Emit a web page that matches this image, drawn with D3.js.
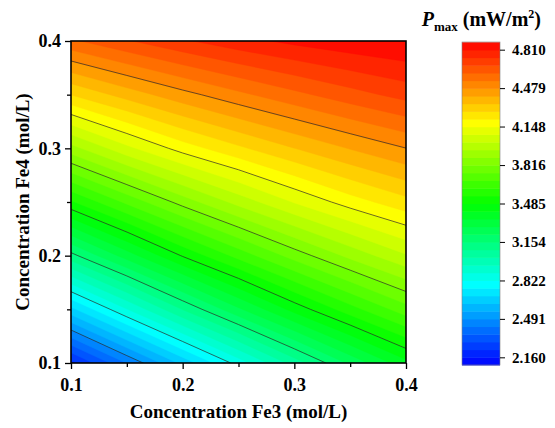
<!DOCTYPE html>
<html><head><meta charset="utf-8">
<script src="https://cdn.jsdelivr.net/npm/d3@7"></script>
<style>
body{margin:0;background:#fff;}
svg text{font-family:"Liberation Serif","Times New Roman",serif;font-weight:bold;fill:#000;}
</style></head><body>
<svg id="chart" width="555" height="428"></svg>
<script>
// ---- data ----
const xValues = [0.10, 0.15, 0.20, 0.25, 0.30, 0.35, 0.40];   // Concentration Fe3 (mol/L)
const yValues = [0.10, 0.15, 0.20, 0.25, 0.30, 0.35, 0.40];   // Concentration Fe4 (mol/L)
// Pmax (mW/m2); one row per yValue (ascending), one column per xValue
const pmaxRows = [
  [2.204, 2.428, 2.643, 2.851, 3.050, 3.234, 3.397],
  [2.671, 2.886, 3.090, 3.274, 3.443, 3.589, 3.721],
  [3.131, 3.317, 3.491, 3.640, 3.778, 3.900, 4.007],
  [3.541, 3.698, 3.844, 3.972, 4.085, 4.180, 4.256],
  [3.922, 4.062, 4.177, 4.265, 4.344, 4.415, 4.478],
  [4.280, 4.373, 4.455, 4.527, 4.591, 4.649, 4.700],
  [4.597, 4.669, 4.732, 4.785, 4.825, 4.855, 4.875]
];
const colorbarTicks = [2.160, 2.491, 2.822, 3.154, 3.485, 3.816, 4.148, 4.479, 4.810];
const contourLineLevels = [2.491, 2.822, 3.154, 3.485, 3.816, 4.148, 4.479];
const xTicks = [0.1, 0.2, 0.3, 0.4], xMinorTicks = [0.15, 0.25, 0.35];
const yTicks = [0.1, 0.2, 0.3, 0.4], yMinorTicks = [0.15, 0.25, 0.35];
const bandsPerLevel = 5;
const paletteStops = ["#0000ff", "#00ffff", "#00ff00", "#ffff00", "#ff0000"];

// ---- layout ----
const svg = d3.select("#chart");
const plot = {left: 71, right: 406, top: 41, bottom: 363};
const x = d3.scaleLinear().domain([0.1, 0.4]).range([plot.left, plot.right]);
const y = d3.scaleLinear().domain([0.1, 0.4]).range([plot.bottom, plot.top]);

const sub = (colorbarTicks[1] - colorbarTicks[0]) / bandsPerLevel;
const cbMin = colorbarTicks[0] - sub;
const cbMax = colorbarTicks[colorbarTicks.length - 1] + sub;
const nBands = Math.round((cbMax - cbMin) / sub);
const bandLows = d3.range(nBands).map(i => cbMin + i * sub);
const pal = d3.scaleLinear().domain(d3.range(paletteStops.length).map(i => i / (paletteStops.length - 1)))
  .range(paletteStops).clamp(true);
const colorOf = v => pal((v - cbMin) / (cbMax - cbMin));

// ---- contours ----
const nx = xValues.length, ny = yValues.length;
const flat = pmaxRows.flat();
const stepX = xValues[1] - xValues[0], stepY = yValues[1] - yValues[0];
const proj = d3.geoTransform({
  point(gx, gy) {
    this.stream.point(x(xValues[0] + (gx - 0.5) * stepX), y(yValues[0] + (gy - 0.5) * stepY));
  }
});
const path = d3.geoPath(proj);

svg.append("defs").append("clipPath").attr("id", "clip")
  .append("rect").attr("x", plot.left).attr("y", plot.top)
  .attr("width", plot.right - plot.left).attr("height", plot.bottom - plot.top);

const gPlot = svg.append("g").attr("clip-path", "url(#clip)");
const fills = d3.contours().size([nx, ny]).thresholds(bandLows)(flat);
gPlot.selectAll("path.band").data(fills).join("path")
  .attr("class", "band")
  .attr("d", path)
  .attr("fill", d => colorOf(d.value + sub / 2))
  .attr("stroke", d => colorOf(d.value + sub / 2))
  .attr("stroke-width", 0.4);

const lines = d3.contours().size([nx, ny]).thresholds(contourLineLevels)(flat);
gPlot.selectAll("path.line").data(lines).join("path")
  .attr("class", "line")
  .attr("d", path)
  .attr("fill", "none")
  .attr("stroke", "#2a2a2a")
  .attr("stroke-width", 0.7);

// frame
svg.append("rect").attr("x", plot.left).attr("y", plot.top)
  .attr("width", plot.right - plot.left).attr("height", plot.bottom - plot.top)
  .attr("fill", "none").attr("stroke", "#000").attr("stroke-width", 1.6);

// ---- axes ----
function styleAxis(g, fs) {
  g.attr("font-family", null).attr("font-size", null);
  g.select(".domain").remove();
  g.selectAll("line").attr("stroke", "#000").attr("stroke-width", 1.3);
  g.selectAll("text").style("font-size", fs + "px");
}
const fmt1 = d3.format(".1f");
svg.append("g").attr("transform", `translate(0,${plot.bottom})`)
  .call(d3.axisBottom(x).tickValues(xTicks).tickSize(6).tickPadding(9).tickFormat(fmt1))
  .call(g => styleAxis(g, 18));
svg.append("g").attr("transform", `translate(0,${plot.bottom})`)
  .call(d3.axisBottom(x).tickValues(xMinorTicks).tickSize(4).tickFormat(""))
  .call(g => styleAxis(g, 18));
svg.append("g").attr("transform", `translate(${plot.left},0)`)
  .call(d3.axisLeft(y).tickValues(yTicks).tickSize(6).tickPadding(4).tickFormat(fmt1))
  .call(g => styleAxis(g, 18));
svg.append("g").attr("transform", `translate(${plot.left},0)`)
  .call(d3.axisLeft(y).tickValues(yMinorTicks).tickSize(4).tickFormat(""))
  .call(g => styleAxis(g, 18));

svg.append("text").attr("x", (plot.left + plot.right) / 2).attr("y", 418)
  .attr("text-anchor", "middle").style("font-size", "19px")
  .text("Concentration Fe3 (mol/L)");
svg.append("text").attr("transform", `translate(29,${(plot.top + plot.bottom) / 2}) rotate(-90)`)
  .attr("text-anchor", "middle").style("font-size", "19px")
  .text("Concentration Fe4 (mol/L)");

// ---- colorbar ----
const cb = {left: 462, right: 500, top: 42, bottom: 365};
const cbY = d3.scaleLinear().domain([cbMin, cbMax]).range([cb.bottom, cb.top]);
svg.append("g").selectAll("rect").data(bandLows).join("rect")
  .attr("x", cb.left).attr("width", cb.right - cb.left)
  .attr("y", d => cbY(d + sub))
  .attr("height", d => cbY(d) - cbY(d + sub) + 0.5)
  .attr("fill", d => colorOf(d + sub / 2));
svg.append("rect").attr("x", cb.left).attr("y", cb.top)
  .attr("width", cb.right - cb.left).attr("height", cb.bottom - cb.top)
  .attr("fill", "none").attr("stroke", "#808080").attr("stroke-width", 0.6);
svg.append("g").attr("transform", `translate(${cb.right},0)`)
  .call(d3.axisRight(cbY).tickValues(colorbarTicks).tickSize(5).tickPadding(7).tickFormat(d3.format(".3f")))
  .call(g => styleAxis(g, 15))
  .call(g => g.selectAll("line").attr("stroke-width", 1));

const title = svg.append("text").attr("x", 541).attr("y", 26)
  .attr("text-anchor", "end").style("font-size", "20px");
title.append("tspan").style("font-style", "italic").text("P");
title.append("tspan").style("font-size", "13px").attr("dy", 5).text("max");
title.append("tspan").attr("dy", -5).text(" (mW/m");
title.append("tspan").style("font-size", "12px").attr("dy", -8).text("2");
title.append("tspan").attr("dy", 8).text(")");
</script>
</body></html>
